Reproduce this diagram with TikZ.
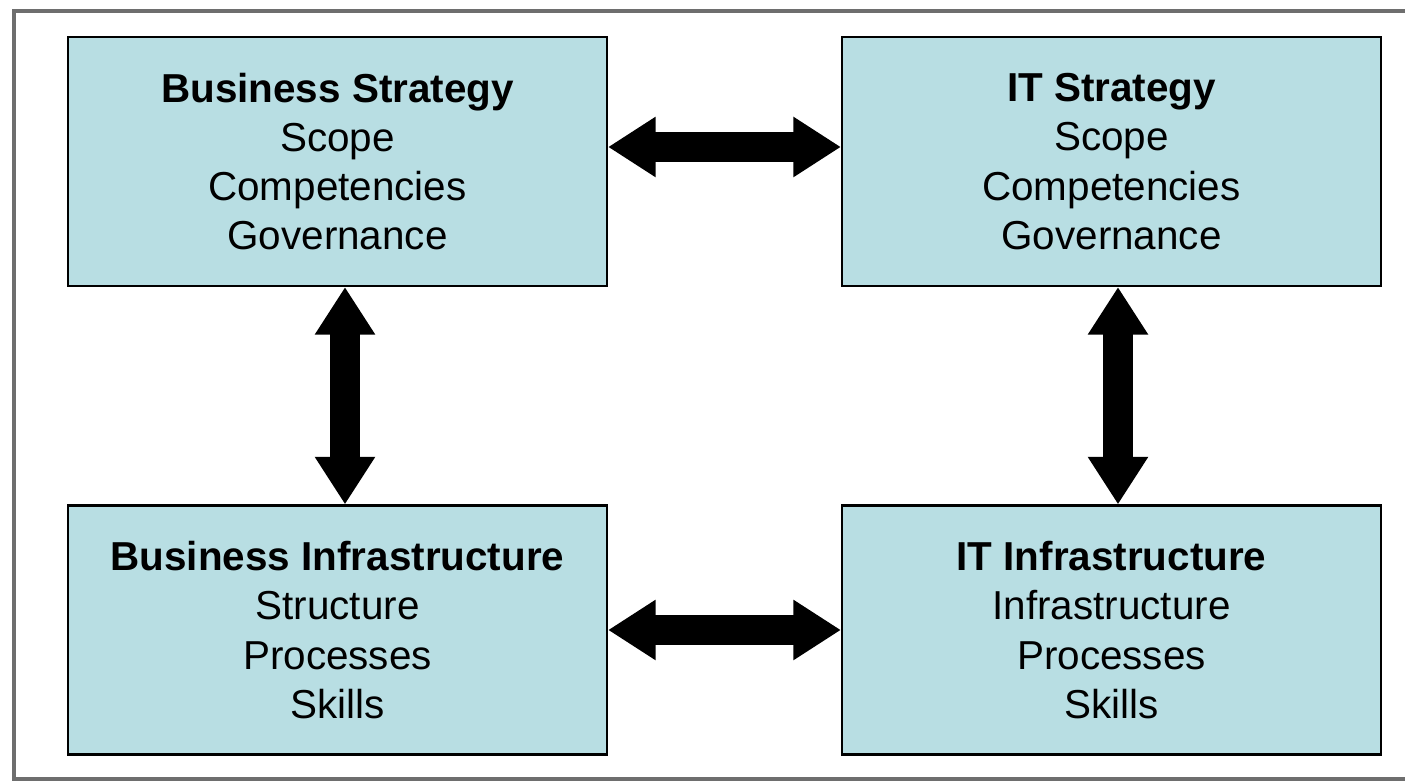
\documentclass[tikz,border=0pt]{standalone}
\usepackage{fontspec}
\setmainfont{Liberation Sans}
\usetikzlibrary{arrows.meta}
\definecolor{boxblue}{RGB}{184,222,227}
\definecolor{framegray}{RGB}{110,110,110}

\begin{document}
\begin{tikzpicture}[>={Triangle[length=0.95cm,width=1.14cm]},
every node/.style={font=\fontsize{23}{28}\selectfont},
areabox/.style={draw,line width=1.2pt,fill=boxblue,minimum width=10.78cm,minimum height=4.98cm,align=center,inner sep=0pt},
bigarrow/.style={<->,line width=0.6cm}]

\useasboundingbox (0,0) rectangle (28.1,15.62);
\draw[framegray,line width=2.2pt] (28.1,15.4) -- (0.28,15.4) -- (0.28,0.04) -- (28.1,0.04);

\node[areabox] (bs) at (6.75,12.39) {\textbf{Business Strategy}\\Scope\\Competencies\\Governance};
\node[areabox] (its) at (22.23,12.39) {\textbf{IT Strategy}\\Scope\\Competencies\\Governance};
\node[areabox] (bi) at (6.75,3.02) {\textbf{Business Infrastructure}\\Structure\\Processes\\Skills};
\node[areabox] (iti) at (22.23,3.02) {\textbf{IT Infrastructure}\\Infrastructure\\Processes\\Skills};

\draw[bigarrow] ([yshift=0.29cm]bs.east) -- ([yshift=0.29cm]its.west);
\draw[bigarrow] (bi.east) -- (iti.west);
\draw[bigarrow] ([xshift=0.15cm]bs.south) -- ([xshift=0.15cm]bi.north);
\draw[bigarrow] ([xshift=0.13cm]its.south) -- ([xshift=0.13cm]iti.north);

\end{tikzpicture}
\end{document}
